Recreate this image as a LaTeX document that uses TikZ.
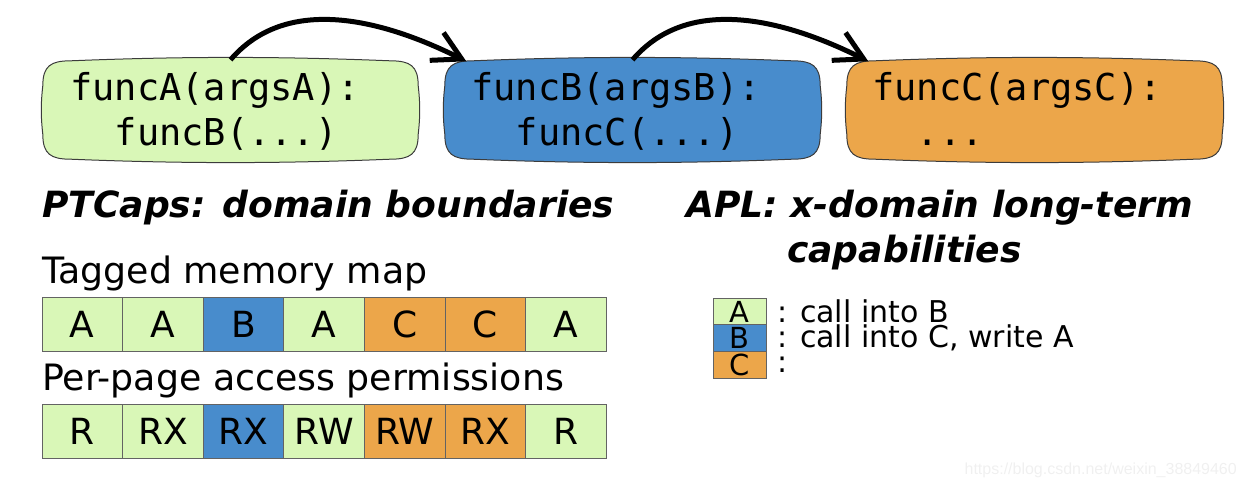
\documentclass[tikz,border=0pt]{standalone}
\usepackage{fontspec}
\setmainfont{DejaVu Sans}
\newfontfamily\monof{DejaVu Sans Mono}
\newfontfamily\wmf{Liberation Sans}
\usetikzlibrary{arrows.meta,calc}
\definecolor{cgreen}{RGB}{217,247,183}
\definecolor{cblue}{RGB}{72,140,204}
\definecolor{corange}{RGB}{236,166,74}
\definecolor{edge}{RGB}{60,60,60}
\tikzset{
  fbox/.style={minimum width=375pt, minimum height=104pt, inner sep=0pt},
  boxline/.style={draw=edge, line width=1pt},
  code/.style={font=\monof\fontsize{37}{40}\selectfont, inner sep=0pt, anchor=base west},
  arr/.style={line width=5pt, -{Straight Barb[length=28pt, width=31pt, line width=5pt]}},
  head/.style={font=\fontsize{36.1}{40}\selectfont\bfseries\itshape, inner sep=0pt, anchor=base west},
  lbl/.style={font=\fontsize{36.3}{40}\selectfont, inner sep=0pt, anchor=base west},
  cell/.style={draw=edge!80, line width=0.8pt, minimum width=80.6pt, minimum height=54pt, inner sep=0pt, font=\fontsize{36}{40}\selectfont},
  lcell/.style={draw=edge!80, line width=0.8pt, minimum width=53pt, minimum height=26.7pt, inner sep=0pt, font=\fontsize{29}{30}\selectfont},
  ltxt/.style={font=\fontsize{30}{34}\selectfont, inner sep=0pt, anchor=west}
}
\begin{document}
\begin{tikzpicture}[x=1pt,y=-1pt]
\useasboundingbox (0,0) rectangle (1246,488);
% function boxes (anchors)
\node[fbox] (bA) at (230.5,110) {};
\node[fbox] (bB) at (632.5,110) {};
\node[fbox] (bC) at (1034.5,110) {};
\foreach \n/\c in {bA/cgreen,bB/cblue,bC/corange}{
  \filldraw[boxline, fill=\c]
    ($(\n.north west)+(0,28)$)
    .. controls ($(\n.north west)+(0,8)$) and ($(\n.north west)+(8,3)$) .. ($(\n.north west)+(28,3)$)
    .. controls ($(\n.north west)+(140,-1.5)$) and ($(\n.north east)+(-140,-1.5)$) .. ($(\n.north east)+(-28,3)$)
    .. controls ($(\n.north east)+(-8,3)$) and ($(\n.north east)+(0,8)$) .. ($(\n.north east)+(0,28)$)
    .. controls ($(\n.north east)+(2,45)$) and ($(\n.south east)+(2,-45)$) .. ($(\n.south east)+(0,-28)$)
    .. controls ($(\n.south east)+(0,-8)$) and ($(\n.south east)+(-8,-3)$) .. ($(\n.south east)+(-28,-3)$)
    .. controls ($(\n.south east)+(-140,1.5)$) and ($(\n.south west)+(140,1.5)$) .. ($(\n.south west)+(28,-3)$)
    .. controls ($(\n.south west)+(8,-3)$) and ($(\n.south west)+(0,-8)$) .. ($(\n.south west)+(0,-28)$)
    .. controls ($(\n.south west)+(-2,-45)$) and ($(\n.north west)+(-2,45)$) .. cycle;
}
\node[code] (tA1) at (70,100) {funcA(argsA):};
\node[code] (tA2) at (70,145) {\phantom{ff}funcB(...)};
\node[code] (tB1) at (471,100) {funcB(argsB):};
\node[code] (tB2) at (471,145) {\phantom{ff}funcC(...)};
\node[code] (tC1) at (872,100) {funcC(argsC):};
\node[code] (tC2) at (872,145) {\phantom{ff}...};
% arrows
\draw[arr] ([yshift=-2pt]bA.north) .. controls +(60,-70) and +(-72,-36) .. ([shift={(21.5,3.5)}]bB.north west);
\draw[arr] ([yshift=-2pt]bB.north) .. controls +(60,-70) and +(-72,-36) .. ([shift={(21.5,3.5)}]bC.north west);
% headings
\node[head] (h1) at (42,217) {PTCaps: domain boundaries};
\node[head] (h2) at (686,217) {APL: x-domain long-term};
\node[head] (h3) at (787,262) {capabilities};
% labels
\node[lbl] (l1) at (42,283) {Tagged memory map};
\node[lbl] (l2) at (42,390) {Per-page access permissions};
% rows
\foreach \i/\l/\c in {0/A/cgreen,1/A/cgreen,2/B/cblue,3/A/cgreen,4/C/corange,5/C/corange,6/A/cgreen}
  \node[cell, fill=\c] (m\i) at ({82.3+80.6*\i},324) {\l};
\foreach \i/\l/\c in {0/R/cgreen,1/RX/cgreen,2/RX/cblue,3/RW/cgreen,4/RW/corange,5/RX/corange,6/R/cgreen}
  \node[cell, fill=\c] (p\i) at ({82.3+80.6*\i},431) {\l};
% legend
\node[lcell, fill=cgreen]  (gA) at (739.5,311.5) {A};
\node[lcell, fill=cblue]   (gB) at (739.5,338.2) {B};
\node[lcell, fill=corange] (gC) at (739.5,364.9) {C};
\node[ltxt] (xA) at (777,311) {: call into B};
\node[ltxt] (xB) at (777,338) {: call into C, write A};
\node[ltxt] (xC) at (777,365) {:};
% watermark
\node[font=\wmf\fontsize{16}{18}\selectfont, text=black!6, inner sep=0pt, anchor=east] (wm) at (1237,470) {https://blog.csdn.net/weixin\_38849460};
\end{tikzpicture}
\end{document}
